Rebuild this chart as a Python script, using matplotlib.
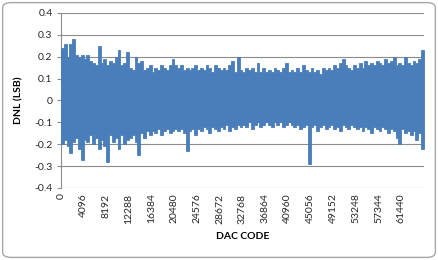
import numpy as np
import matplotlib
matplotlib.use("Agg")
import matplotlib.pyplot as plt
from matplotlib.patches import FancyBboxPatch

FIG_SIZE = (4.38, 2.6)
DPI = 100
BAND_COLOR = "#4a7ebb"
GRID_COLOR = "#8c8c8c"
FONT = ["Lato", "DejaVu Sans"]

matplotlib.rcParams.update({"font.family": FONT, "font.size": 7.5})

# DNL envelope, one value per block of 512 codes
BLOCK = 512
dnl_upper = [
    0.24, 0.26, 0.20, 0.26, 0.28, 0.21, 0.20, 0.21,
    0.19, 0.21, 0.18, 0.17, 0.16, 0.25, 0.17, 0.19,
    0.16, 0.18, 0.17, 0.20, 0.23, 0.16, 0.17, 0.22,
    0.15, 0.14, 0.20, 0.17, 0.18, 0.14, 0.15, 0.16,
    0.13, 0.15, 0.14, 0.16, 0.15, 0.14, 0.16, 0.19,
    0.16, 0.15, 0.16, 0.14, 0.15, 0.14, 0.15, 0.16,
    0.14, 0.15, 0.14, 0.16, 0.15, 0.13, 0.16, 0.15,
    0.14, 0.15, 0.14, 0.16, 0.18, 0.13, 0.20, 0.14,
    0.13, 0.15, 0.14, 0.15, 0.13, 0.17, 0.13, 0.15,
    0.13, 0.14, 0.13, 0.15, 0.14, 0.13, 0.15, 0.17,
    0.13, 0.14, 0.13, 0.15, 0.13, 0.16, 0.14, 0.13,
    0.15, 0.13, 0.14, 0.12, 0.15, 0.14, 0.15, 0.14,
    0.16, 0.15, 0.17, 0.19, 0.16, 0.15, 0.14, 0.16,
    0.15, 0.17, 0.15, 0.18, 0.16, 0.17, 0.16, 0.18,
    0.17, 0.16, 0.19, 0.17, 0.18, 0.20, 0.16, 0.17,
    0.16, 0.20, 0.17, 0.16, 0.18, 0.17, 0.19, 0.23,
]
dnl_lower = [
    -0.20, -0.18, -0.21, -0.24, -0.19, -0.17, -0.22, -0.27,
    -0.18, -0.19, -0.16, -0.20, -0.17, -0.22, -0.18, -0.21,
    -0.28, -0.16, -0.19, -0.17, -0.22, -0.16, -0.20, -0.18,
    -0.17, -0.16, -0.19, -0.25, -0.15, -0.17, -0.14, -0.16,
    -0.14, -0.15, -0.13, -0.16, -0.14, -0.13, -0.15, -0.14,
    -0.13, -0.14, -0.13, -0.15, -0.23, -0.14, -0.13, -0.16,
    -0.13, -0.14, -0.12, -0.13, -0.15, -0.12, -0.13, -0.14,
    -0.12, -0.13, -0.11, -0.14, -0.12, -0.13, -0.11, -0.12,
    -0.11, -0.12, -0.10, -0.13, -0.11, -0.10, -0.12, -0.11,
    -0.10, -0.11, -0.12, -0.10, -0.11, -0.10, -0.12, -0.11,
    -0.10, -0.11, -0.12, -0.11, -0.13, -0.12, -0.11, -0.29,
    -0.12, -0.11, -0.14, -0.12, -0.11, -0.13, -0.12, -0.11,
    -0.13, -0.12, -0.14, -0.11, -0.12, -0.13, -0.11, -0.12,
    -0.13, -0.12, -0.14, -0.12, -0.13, -0.15, -0.12, -0.13,
    -0.14, -0.12, -0.13, -0.15, -0.13, -0.14, -0.17, -0.20,
    -0.13, -0.15, -0.14, -0.16, -0.14, -0.18, -0.15, -0.22,
]
x_tick_codes = list(range(0, 65536, 4096))
y_ticks = [-0.4, -0.3, -0.2, -0.1, 0, 0.1, 0.2, 0.3, 0.4]


def _y_label(value: float) -> str:
    return "0" if value == 0 else f"{value:.1f}"


fig = plt.figure(figsize=FIG_SIZE, dpi=DPI, facecolor="white")
fig.patches.append(
    FancyBboxPatch(
        (0.006, 0.01), 0.988, 0.98,
        boxstyle="round,pad=0,rounding_size=0.02",
        transform=fig.transFigure, facecolor="none",
        edgecolor="#a6a6a6", linewidth=1.0, zorder=-1,
    )
)
ax = fig.add_axes([0.139, 0.277, 0.829, 0.673])
ax.set_facecolor("none")

edges = np.arange(len(dnl_upper) + 1) * BLOCK
upper = np.append(dnl_upper, dnl_upper[-1])
lower = np.append(dnl_lower, dnl_lower[-1])
ax.fill_between(edges, lower, upper, step="post", color=BAND_COLOR,
                linewidth=0.6, edgecolor=BAND_COLOR, zorder=3)

ax.set_xlim(0, 65536)
ax.set_ylim(-0.4, 0.4)
ax.set_yticks(y_ticks)
ax.set_yticklabels([_y_label(v) for v in y_ticks])
ax.set_xticks(x_tick_codes)
ax.set_xticklabels([str(c) for c in x_tick_codes], rotation=90)
ax.tick_params(axis="x", length=0, pad=4, colors="#262626")
ax.tick_params(axis="y", length=3, width=0.8, color=GRID_COLOR, pad=3,
               labelcolor="#262626")
ax.grid(axis="y", color=GRID_COLOR, linewidth=0.8, zorder=0)
for side in ("top", "right", "bottom"):
    ax.spines[side].set_visible(False)
ax.spines["left"].set_color(GRID_COLOR)
ax.spines["left"].set_linewidth(0.8)

ax.set_xlabel("DAC CODE", fontweight="bold", fontsize=7.5, labelpad=6)
ax.set_ylabel("DNL (LSB)", fontweight="bold", fontsize=7.5, labelpad=8)

fig.savefig("out.png", dpi=DPI)
